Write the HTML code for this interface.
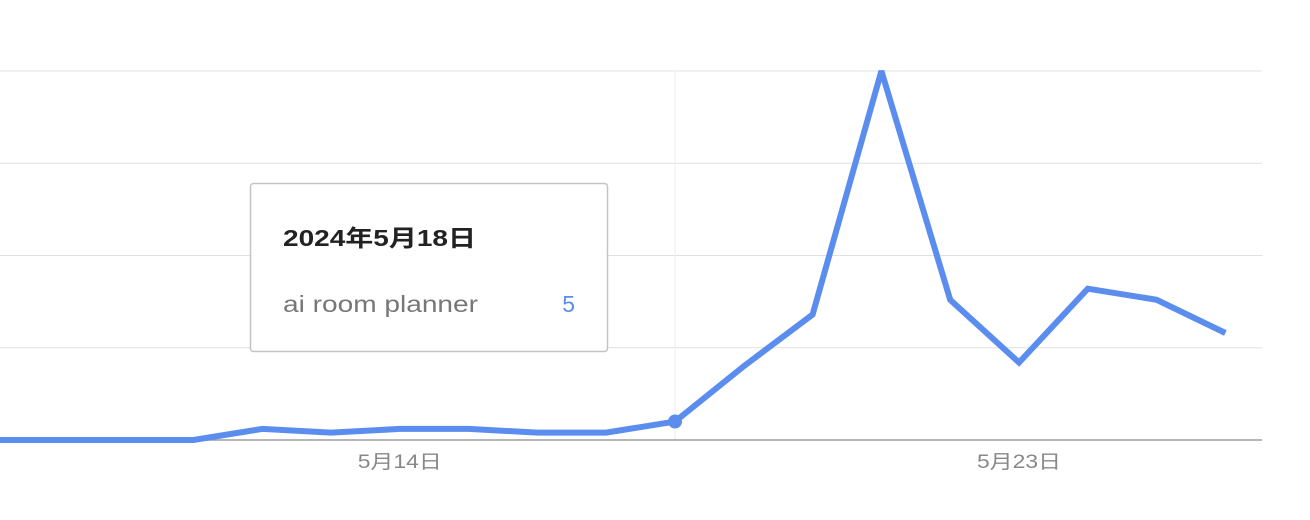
<!DOCTYPE html>
<html><head><meta charset="utf-8"><style>
html,body{margin:0;padding:0;background:#fff;width:1310px;height:520px;overflow:hidden}
svg{display:block}
text{font-family:"Liberation Sans","Noto Sans CJK JP",sans-serif}
</style></head><body>
<svg id="chart" width="1310" height="520"></svg>
<script>
const dates=["5/8","5/9","5/10","5/11","5/12","5/13","5/14","5/15","5/16","5/17","5/18","5/19","5/20","5/21","5/22","5/23","5/24","5/25","5/26"];
const values=[0,0,0,0,3,2,3,3,2,2,5,20,34,100,38,21,41,38,29];
const tickLabels=["5月14日","5月23日"];
const tickIdx=[6,15];
const gridVals=[25,50,75,100];
const hoverIdx=10;
const NS="http://www.w3.org/2000/svg";
const svg=document.getElementById('chart');
const x=i=>675+(i-10)*68.8;
const y=v=>440-v*3.69;
function el(t,a){const e=document.createElementNS(NS,t);for(const k in a)e.setAttribute(k,a[k]);svg.appendChild(e);return e;}
gridVals.forEach(v=>{const l=el('line',{x1:0,x2:1262,y1:y(v),y2:y(v),stroke:'#e0e0e0','stroke-width':1});

});
const hl=el('line',{x1:x(hoverIdx),x2:x(hoverIdx),y1:y(100),y2:440,stroke:'#eeeeee','stroke-width':1});


const base=el('line',{x1:0,x2:1262,y1:440,y2:440,stroke:'#9e9e9e','stroke-width':1.5});


tickIdx.forEach((ix,k)=>{const t=el('text',{x:x(ix),y:468,'text-anchor':'middle','font-size':19,fill:'#888',textLength:84,lengthAdjust:'spacingAndGlyphs'});t.textContent=tickLabels[k];

});
const pts=values.map((v,i)=>x(i)+','+y(v)).join(' ');
const pl=el('polyline',{points:pts,fill:'none',stroke:'#5b8def','stroke-width':6,'stroke-linejoin':'miter','stroke-miterlimit':2});


const dot=el('circle',{cx:x(hoverIdx),cy:y(values[hoverIdx]),r:7,fill:'#5b8def'});


const box=el('rect',{x:250.5,y:183.5,width:357,height:168,rx:3,fill:'rgba(255,255,255,0.92)',stroke:'#c4c4c4','stroke-width':1.5});


const t1=el('text',{x:283,y:246,'font-size':23,'font-weight':'bold',fill:'#222',textLength:193,lengthAdjust:'spacingAndGlyphs'});t1.textContent="2024年5月"+"18日";


const t2=el('text',{x:283,y:312,'font-size':23,fill:'#777',textLength:195,lengthAdjust:'spacingAndGlyphs'});t2.textContent="ai room planner";


const t3=el('text',{x:575,y:312,'font-size':23,fill:'#5b8def','text-anchor':'end'});t3.textContent=values[hoverIdx];


</script>
</body></html>
